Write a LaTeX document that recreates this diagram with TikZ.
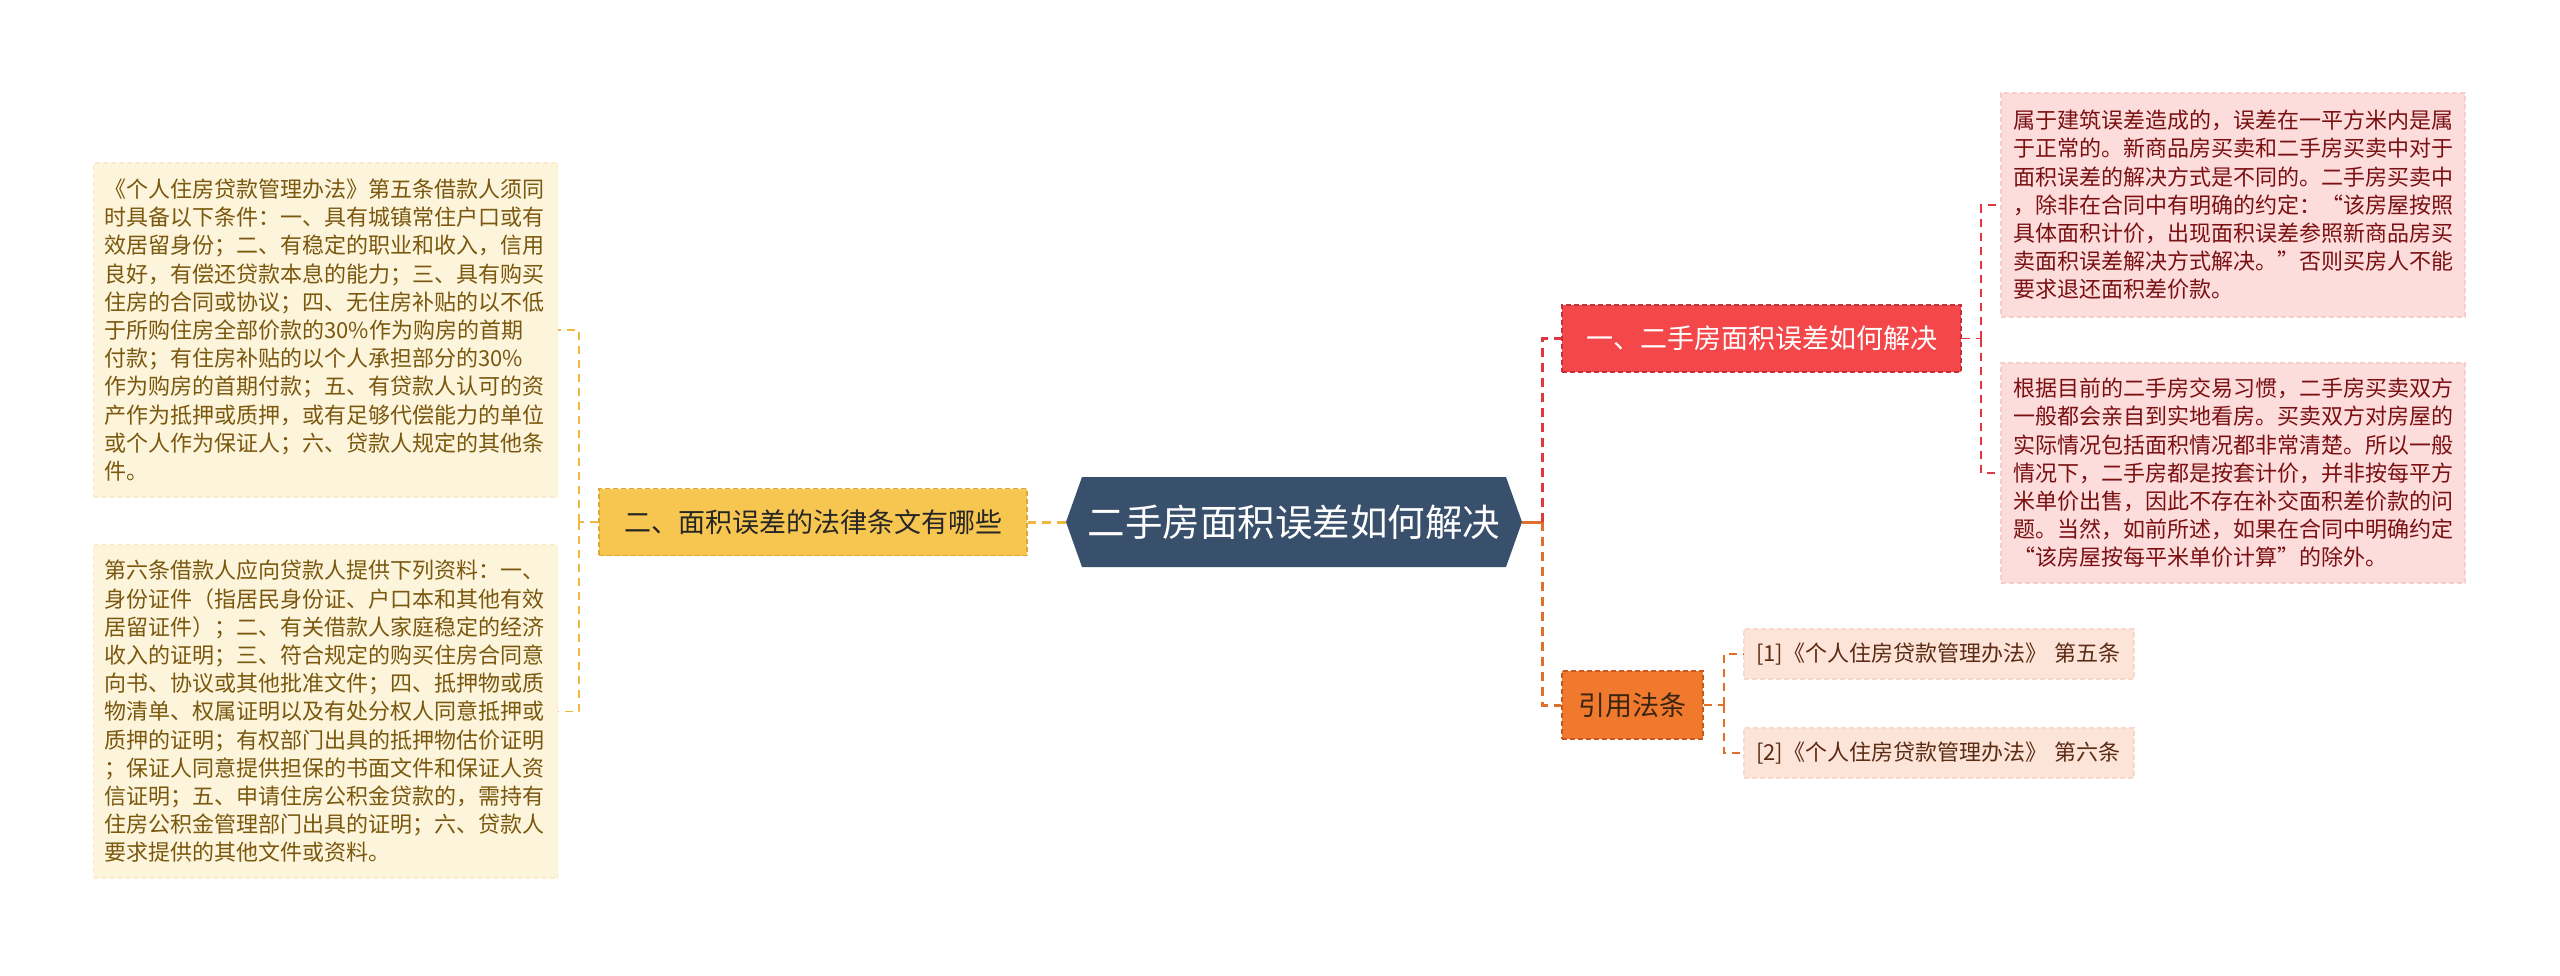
\documentclass[tikz,border=0pt]{standalone}
\usepackage{fontspec}
\setmainfont{Noto Sans CJK SC}
\definecolor{cblue}{HTML}{38506B}
\definecolor{yfill}{HTML}{F7C650}
\definecolor{yline}{HTML}{F0B840}
\definecolor{ydraw}{HTML}{E0A830}
\definecolor{cream}{HTML}{FDF4DC}
\definecolor{creamline}{HTML}{F9EBCB}
\definecolor{ytext}{HTML}{7A580E}
\definecolor{rfill}{HTML}{F3474A}
\definecolor{rdraw}{HTML}{C93035}
\definecolor{rline}{HTML}{E0383E}
\definecolor{pfill}{HTML}{FDDCDC}
\definecolor{pline}{HTML}{F7CDCD}
\definecolor{ptext}{HTML}{7A1012}
\definecolor{ofill}{HTML}{F0792E}
\definecolor{odraw}{HTML}{C65A1A}
\definecolor{oline}{HTML}{E06F2C}
\definecolor{otext}{HTML}{3A2510}
\definecolor{cfill}{HTML}{FDE4D9}
\definecolor{cline}{HTML}{F9D8CB}
\definecolor{ctext}{HTML}{5B2B14}
\tikzset{
  mainlink/.style={line width=3pt, dash pattern=on 9pt off 6pt},
  sublink/.style={line width=1.6pt, dash pattern=on 8pt off 6pt},
  topicbox/.style={line width=1.5pt, dash pattern=on 5pt off 3pt, inner sep=0pt,
    font=\fontsize{27}{32}\selectfont},
  leafbox/.style={line width=1.2pt, dash pattern=on 5pt off 3pt, align=left,
    text width=442pt, inner xsep=11pt, inner ysep=0pt,
    font=\fontsize{22}{28.2}\selectfont},
  citebox/.style={line width=1.2pt, dash pattern=on 5pt off 3pt, align=left,
    fill=cfill, draw=cline, text=ctext, text width=366pt, inner xsep=12pt, inner ysep=0pt,
    minimum height=50pt, font=\fontsize{22}{26}\selectfont},
}
\begin{document}
\begin{tikzpicture}[x=1pt,y=-1pt]
\useasboundingbox (0,0) rectangle (2560,975);
\fill[white] (0,0) rectangle (2560,975);

% central hexagon
\fill[cblue] (1066,522) -- (1082,477) -- (1506,477) -- (1522,522) -- (1506,567) -- (1082,567) -- cycle;
\node[minimum width=456pt, minimum height=90pt, inner sep=0pt, text=white,
  font=\fontsize{37.5}{40}\selectfont] (c) at (1294,522) {二手房面积误差如何解决};

% left branch
\node[topicbox, fill=yfill, draw=ydraw, text=black!85, minimum width=428pt, minimum height=67pt] (y) at (813,522) {二、面积误差的法律条文有哪些};
\node[leafbox, fill=cream, draw=creamline, text=ytext, minimum height=334pt] (L1) at (325.5,330) {《个人住房贷款管理办法》第五条借款人须同\\时具备以下条件：一、具有城镇常住户口或有\\效居留身份；二、有稳定的职业和收入，信用\\良好，有偿还贷款本息的能力；三、具有购买\\住房的合同或协议；四、无住房补贴的以不低\\于所购住房全部价款的30\%作为购房的首期\\付款；有住房补贴的以个人承担部分的30\%\\作为购房的首期付款；五、有贷款人认可的资\\产作为抵押或质押，或有足够代偿能力的单位\\或个人作为保证人；六、贷款人规定的其他条\\件。};
\node[leafbox, fill=cream, draw=creamline, text=ytext, minimum height=333pt] (L2) at (325.5,711.5) {第六条借款人应向贷款人提供下列资料：一、\\身份证件（指居民身份证、户口本和其他有效\\居留证件）；二、有关借款人家庭稳定的经济\\收入的证明；三、符合规定的购买住房合同意\\向书、协议或其他批准文件；四、抵押物或质\\物清单、权属证明以及有处分权人同意抵押或\\质押的证明；有权部门出具的抵押物估价证明\\；保证人同意提供担保的书面文件和保证人资\\信证明；五、申请住房公积金贷款的，需持有\\住房公积金管理部门出具的证明；六、贷款人\\要求提供的其他文件或资料。};

\draw[mainlink, yline] (c.west) -- (y.east);
\draw[sublink, yline] (y.west) -- (579,522) coordinate (lj);
\draw[sublink, yline] (lj) |- (L1.east);
\draw[sublink, yline] (lj) |- (L2.east);

% right branch
\node[topicbox, fill=rfill, draw=rdraw, text=white, minimum width=399pt, minimum height=67pt] (n1) at (1761.5,338.5) {一、二手房面积误差如何解决};
\node[topicbox, fill=ofill, draw=odraw, text=otext, minimum width=141pt, minimum height=68pt] (n3) at (1632.5,705) {引用法条};

\draw[line width=3pt, oline] (c.east) -- (1542,522) coordinate (rj);
\draw[mainlink, rline] (rj) |- (n1.west);
\draw[mainlink, oline] (rj) |- (n3.west);

\node[leafbox, fill=pfill, draw=pline, text=ptext, text width=440pt, inner xsep=12pt, minimum height=224pt] (P1) at (2233,205) {属于建筑误差造成的，误差在一平方米内是属\\于正常的。新商品房买卖和二手房买卖中对于\\面积误差的解决方式是不同的。二手房买卖中\\，除非在合同中有明确的约定：“该房屋按照\\具体面积计价，出现面积误差参照新商品房买\\卖面积误差解决方式解决。”否则买房人不能\\要求退还面积差价款。};
\node[leafbox, fill=pfill, draw=pline, text=ptext, text width=440pt, inner xsep=12pt, minimum height=220pt] (P2) at (2233,473) {根据目前的二手房交易习惯，二手房买卖双方\\一般都会亲自到实地看房。买卖双方对房屋的\\实际情况包括面积情况都非常清楚。所以一般\\情况下，二手房都是按套计价，并非按每平方\\米单价出售，因此不存在补交面积差价款的问\\题。当然，如前所述，如果在合同中明确约定\\“该房屋按每平米单价计算”的除外。};

\draw[sublink, rline] (n1.east) -- (1981,338.5) coordinate (pj);
\draw[sublink, rline] (pj) |- (P1.west);
\draw[sublink, rline] (pj) |- (P2.west);

\node[citebox] (C1) at (1939,654) {[1]《个人住房贷款管理办法》 第五条};
\node[citebox] (C2) at (1939,753) {[2]《个人住房贷款管理办法》 第六条};

\draw[sublink, oline] (n3.east) -- (1724,705) coordinate (cj);
\draw[sublink, oline] (cj) |- (C1.west);
\draw[sublink, oline] (cj) |- (C2.west);
\end{tikzpicture}
\end{document}
